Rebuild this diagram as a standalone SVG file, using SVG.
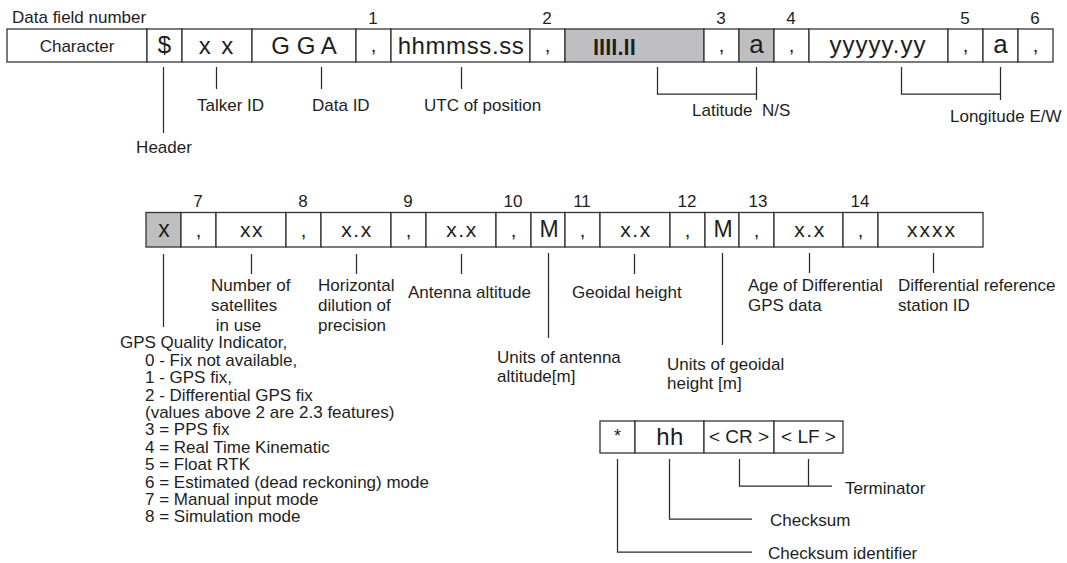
<svg xmlns="http://www.w3.org/2000/svg" width="1067" height="563" viewBox="0 0 1067 563">
  <style>
    text { font-family: "Liberation Sans", Arial, sans-serif; fill: #1e1e1e; }
    .cell { fill: #fff; stroke: #333; stroke-width: 1.3; }
    .gray { fill: #bfbfc1; }
    .big { font-size: 24px; text-anchor: middle; }
    .mid { font-size: 21px; text-anchor: middle; letter-spacing: 1.5px; }
    .com { font-size: 20px; text-anchor: middle; }
    .lbl { font-size: 17px; }
    .num { font-size: 17px; text-anchor: middle; }
    .ctr { text-anchor: middle; }
    .pre { white-space: pre; }
    #connectors path { fill: none; stroke: #2a2a2a; stroke-width: 1.25; }
  </style>

  <!-- Field numbers and row caption -->
  <g id="field-numbers">
    <text class="lbl" x="12" y="23">Data field number</text>
    <text class="num" x="373" y="24">1</text>
    <text class="num" x="547" y="24">2</text>
    <text class="num" x="721" y="24">3</text>
    <text class="num" x="791" y="24">4</text>
    <text class="num" x="965" y="24">5</text>
    <text class="num" x="1035" y="24">6</text>
    <text class="num" x="198" y="207">7</text>
    <text class="num" x="303" y="207">8</text>
    <text class="num" x="408" y="207">9</text>
    <text class="num" x="513" y="207">10</text>
    <text class="num" x="582" y="207">11</text>
    <text class="num" x="687" y="207">12</text>
    <text class="num" x="758" y="207">13</text>
    <text class="num" x="860" y="207">14</text>
  </g>

  <!-- Sentence row 1 -->
  <g id="cell-character"><rect class="cell" x="7" y="29" width="140" height="33"/><text class="lbl ctr" x="77" y="52">Character</text></g>
  <g id="cell-dollar"><rect class="cell" x="147" y="29" width="35" height="33"/><text class="big" x="164.5" y="53">$</text></g>
  <g id="cell-talker"><rect class="cell" x="182" y="29" width="70" height="33"/><text class="big" x="216" y="54" style="word-spacing:4px">x x</text></g>
  <g id="cell-gga"><rect class="cell" x="252" y="29" width="104" height="33"/><text class="big" x="304" y="54">G G A</text></g>
  <g id="cell-c1"><rect class="cell" x="356" y="29" width="35" height="33"/><text class="com" x="373.5" y="52">,</text></g>
  <g id="cell-utc"><rect class="cell" x="391" y="29" width="139" height="33"/><text class="big" x="461" y="54" letter-spacing="0.6">hhmmss.ss</text></g>
  <g id="cell-c2"><rect class="cell" x="530" y="29" width="35" height="33"/><text class="com" x="547.5" y="52">,</text></g>
  <g id="cell-lat"><rect class="cell gray" x="565" y="29" width="139" height="33"/><text x="593" y="55" font-size="22" font-weight="bold">llll.ll</text></g>
  <g id="cell-c3"><rect class="cell" x="704" y="29" width="35" height="33"/><text class="com" x="721.5" y="52">,</text></g>
  <g id="cell-ns"><rect class="cell gray" x="739" y="29" width="35" height="33"/><text class="big" x="756.5" y="53" style="font-size:26px">a</text></g>
  <g id="cell-c4"><rect class="cell" x="774" y="29" width="35" height="33"/><text class="com" x="791.5" y="52">,</text></g>
  <g id="cell-lon"><rect class="cell" x="809" y="29" width="139" height="33"/><text class="big" x="878" y="53" letter-spacing="1">yyyyy.yy</text></g>
  <g id="cell-c5"><rect class="cell" x="948" y="29" width="35" height="33"/><text class="com" x="965.5" y="52">,</text></g>
  <g id="cell-ew"><rect class="cell" x="983" y="29" width="35" height="33"/><text class="big" x="1000.5" y="53" style="font-size:26px">a</text></g>
  <g id="cell-c6"><rect class="cell" x="1018" y="29" width="35" height="33"/><text class="com" x="1035.5" y="52">,</text></g>

  <!-- Sentence row 2 -->
  <g id="cell-quality"><rect class="cell gray" x="146" y="212.5" width="35" height="34.5"/><text class="mid" x="164" y="237" style="font-size:23px;letter-spacing:0">x</text></g>
  <g id="cell-c7"><rect class="cell" x="181" y="212.5" width="35" height="34.5"/><text class="com" x="198.5" y="237">,</text></g>
  <g id="cell-sats"><rect class="cell" x="216" y="212.5" width="70" height="34.5"/><text class="mid" x="252" y="237">xx</text></g>
  <g id="cell-c8"><rect class="cell" x="286" y="212.5" width="35" height="34.5"/><text class="com" x="303.5" y="237">,</text></g>
  <g id="cell-hdop"><rect class="cell" x="321" y="212.5" width="70" height="34.5"/><text class="mid" x="357" y="237">x.x</text></g>
  <g id="cell-c9"><rect class="cell" x="391" y="212.5" width="35" height="34.5"/><text class="com" x="408.5" y="237">,</text></g>
  <g id="cell-alt"><rect class="cell" x="426" y="212.5" width="70" height="34.5"/><text class="mid" x="462" y="237">x.x</text></g>
  <g id="cell-c10"><rect class="cell" x="496" y="212.5" width="35" height="34.5"/><text class="com" x="513.5" y="237">,</text></g>
  <g id="cell-altunit"><rect class="cell" x="531" y="212.5" width="34" height="34.5"/><text class="mid" x="549" y="237" style="font-size:23px;letter-spacing:0">M</text></g>
  <g id="cell-c11"><rect class="cell" x="565" y="212.5" width="35" height="34.5"/><text class="com" x="582.5" y="237">,</text></g>
  <g id="cell-geoid"><rect class="cell" x="600" y="212.5" width="70" height="34.5"/><text class="mid" x="636" y="237">x.x</text></g>
  <g id="cell-c12"><rect class="cell" x="670" y="212.5" width="35" height="34.5"/><text class="com" x="687.5" y="237">,</text></g>
  <g id="cell-geoidunit"><rect class="cell" x="705" y="212.5" width="34" height="34.5"/><text class="mid" x="723" y="237" style="font-size:23px;letter-spacing:0">M</text></g>
  <g id="cell-c13"><rect class="cell" x="739" y="212.5" width="35" height="34.5"/><text class="com" x="756.5" y="237">,</text></g>
  <g id="cell-age"><rect class="cell" x="774" y="212.5" width="69" height="34.5"/><text class="mid" x="810" y="237">x.x</text></g>
  <g id="cell-c14"><rect class="cell" x="843" y="212.5" width="35" height="34.5"/><text class="com" x="860.5" y="237">,</text></g>
  <g id="cell-station"><rect class="cell" x="878" y="212.5" width="105" height="34.5"/><text class="mid" x="932" y="237" style="letter-spacing:2px">xxxx</text></g>

  <!-- Checksum and terminator -->
  <g id="cell-star"><rect class="cell" x="600" y="421" width="35" height="32"/><text class="ctr" x="617.5" y="442" font-size="18">*</text></g>
  <g id="cell-hh"><rect class="cell" x="635" y="421" width="69" height="32"/><text class="big" x="670" y="445" letter-spacing="0.5">hh</text></g>
  <g id="cell-cr"><rect class="cell" x="704" y="421" width="70" height="32"/><text class="ctr" x="739" y="443" font-size="19">&lt; CR &gt;</text></g>
  <g id="cell-lf"><rect class="cell" x="774" y="421" width="69" height="32"/><text class="ctr" x="808.5" y="443" font-size="19">&lt; LF &gt;</text></g>

  <!-- Leader lines -->
  <g id="connectors">
    <path d="M163.5 67V133"/>
    <path d="M216.5 67V89"/>
    <path d="M321.5 67V89"/>
    <path d="M461.5 67V89"/>
    <path d="M657.5 67V94H756.5M756.5 67V100"/>
    <path d="M901.5 67V94H1000.5M1000.5 67V100"/>
    <path d="M163.5 254V327"/>
    <path d="M251.5 254V274"/>
    <path d="M356.5 254V274"/>
    <path d="M461.5 254V274"/>
    <path d="M548.5 253V338"/>
    <path d="M634.5 254V274"/>
    <path d="M722.5 253V345"/>
    <path d="M809.5 253V273"/>
    <path d="M933.5 253V273"/>
    <path d="M617.5 459V552H752"/>
    <path d="M669.5 459V519H752"/>
    <path d="M739.5 459V486H832M808.5 459V486"/>
  </g>

  <!-- Field descriptions -->
  <g id="labels">
    <text class="lbl ctr" x="164" y="153">Header</text>
    <text class="lbl" x="197" y="111">Talker ID</text>
    <text class="lbl" x="312" y="111">Data ID</text>
    <text class="lbl" x="424" y="111">UTC of position</text>
    <text class="lbl pre" x="692" y="116">Latitude  N/S</text>
    <text class="lbl" x="950" y="122">Longitude E/W</text>

    <text class="lbl" x="211" y="291">Number of</text>
    <text class="lbl" x="211" y="311">satellites</text>
    <text class="lbl pre" x="211" y="331"> in use</text>
    <text class="lbl" x="318" y="291">Horizontal</text>
    <text class="lbl" x="318" y="311">dilution of</text>
    <text class="lbl" x="318" y="331">precision</text>
    <text class="lbl" x="408" y="298">Antenna altitude</text>
    <text class="lbl" x="572" y="298">Geoidal height</text>
    <text class="lbl" x="748" y="291">Age of Differential</text>
    <text class="lbl" x="748" y="311">GPS data</text>
    <text class="lbl" x="898" y="291">Differential reference</text>
    <text class="lbl" x="898" y="311">station ID</text>
    <text class="lbl" x="497" y="363">Units of antenna</text>
    <text class="lbl" x="497" y="382">altitude[m]</text>
    <text class="lbl" x="667" y="370">Units of geoidal</text>
    <text class="lbl" x="667" y="389">height [m]</text>

    <text class="lbl" x="120" y="348">GPS Quality Indicator,</text>
    <text class="lbl" x="145" y="365.5">0 - Fix not available,</text>
    <text class="lbl" x="145" y="383">1 - GPS fix,</text>
    <text class="lbl" x="145" y="400.5">2 - Differential GPS fix</text>
    <text class="lbl" x="145" y="418">(values above 2 are 2.3 features)</text>
    <text class="lbl" x="145" y="435">3 = PPS fix</text>
    <text class="lbl" x="145" y="452.5">4 = Real Time Kinematic</text>
    <text class="lbl" x="145" y="470">5 = Float RTK</text>
    <text class="lbl" x="145" y="487.5">6 = Estimated (dead reckoning) mode</text>
    <text class="lbl" x="145" y="505">7 = Manual input mode</text>
    <text class="lbl" x="145" y="522">8 = Simulation mode</text>

    <text class="lbl" x="845" y="494">Terminator</text>
    <text class="lbl" x="770" y="526">Checksum</text>
    <text class="lbl" x="768" y="559">Checksum identifier</text>
  </g>
</svg>
